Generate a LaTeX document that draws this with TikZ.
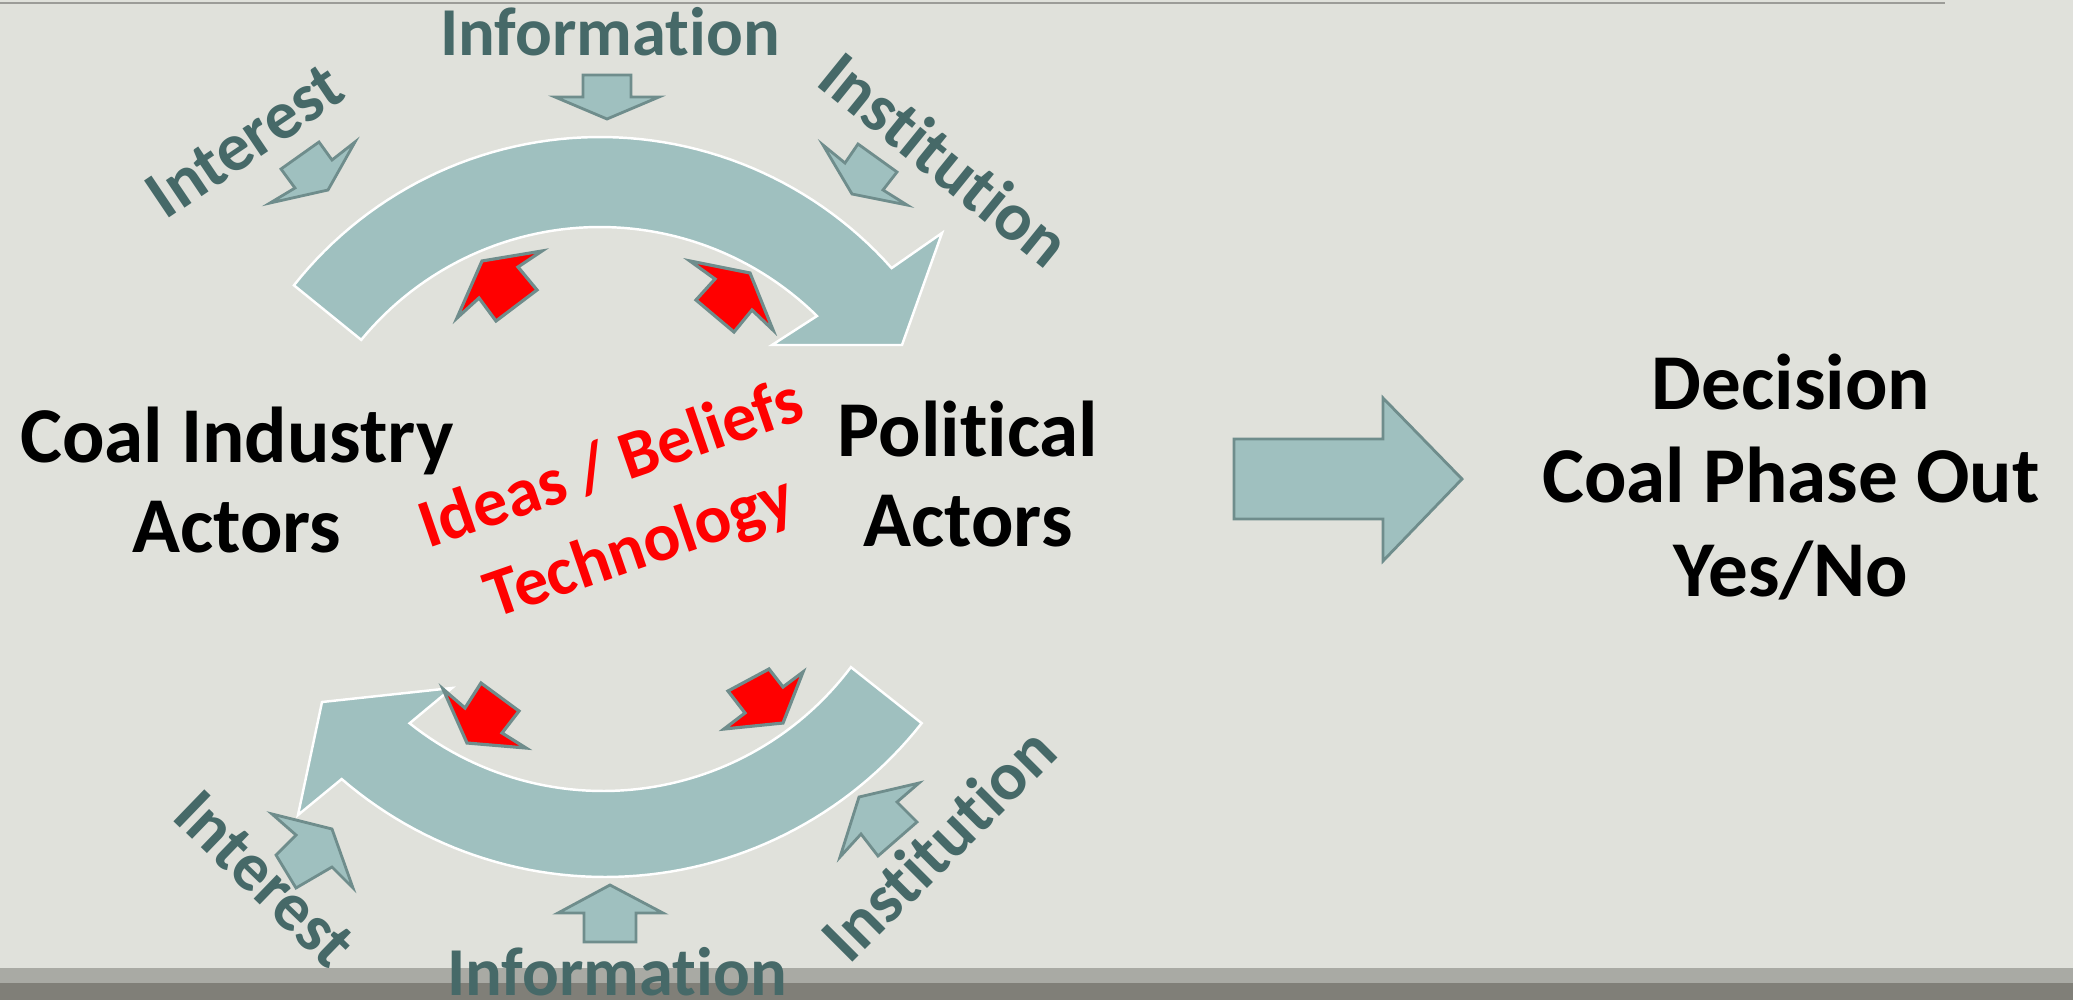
\documentclass[tikz,border=0pt]{standalone}
\usepackage{fontspec}
\setmainfont{Carlito}[Ligatures=NoCommon]
\definecolor{slide}{HTML}{E0E1DB}
\definecolor{arrowfill}{HTML}{9FC0BF}
\definecolor{arrowline}{HTML}{6F8D8C}
\definecolor{factortext}{HTML}{466968}
\definecolor{bandlight}{HTML}{A9AAA4}
\definecolor{banddark}{HTML}{807F78}
\definecolor{ruleline}{HTML}{9C9C98}
\begin{document}
\begin{tikzpicture}[x=0.01cm, y=-0.01cm,
		smallarrow/.style={fill=arrowfill, draw=arrowline, line width=0.8pt},
		redarrow/.style={fill=red, draw=arrowline, line width=0.9pt},
		cyclearrow/.style={fill=arrowfill, draw=white, line width=0.7pt},
		factor/.style={text=factortext, font=\bfseries\fontsize{19.5}{23}\selectfont, inner sep=0pt},
		actors/.style={font=\bfseries\fontsize{22.5}{25.5}\selectfont, align=center, inner sep=0pt}]
			% slide background
			\useasboundingbox (0,0) rectangle (2073,1000);
			\fill [slide] (0,0) rectangle (2073,1000);
			\draw [ruleline, line width=0.6pt] (0,3) -- (1945,3);
			\fill [bandlight] (0,968) rectangle (2073,983);
			\fill [banddark] (0,983) rectangle (2073,1000);
			% the two cycle arrows
			\draw [cyclearrow] plot [domain=-141.7:-41.6, samples=60] ({600+390*cos(\x)},{527+390*sin(\x)}) -- (942,233) -- (902,345) -- (772,345) -- plot [domain=-45.4:-140.6, samples=60] ({600+309*cos(\x)},{536+309*sin(\x)}) -- cycle;
			\draw [cyclearrow] (852,668) -- plot [domain=38.2:130.8, samples=60] ({605+403*cos(\x)},{474+403*sin(\x)}) -- (298,815) -- (322,702) -- (452,688) -- plot [domain=128.6:36.9, samples=60] ({603+310*cos(\x)},{481+310*sin(\x)}) -- cycle;
			% small arrows onto the cycle
			\draw [smallarrow] (319,142) -- (332,160) -- (355,142) -- (328,190) -- (270,203) -- (295,188) -- (281,169) -- cycle;
			\draw [smallarrow] (583,75) -- (631,75) -- (631,97) -- (659,97) -- (607,119) -- (555,97) -- (583,97) -- cycle;
			\draw [smallarrow] (823,145) -- (845,163) -- (858,144) -- (897,172) -- (883,190) -- (907,205) -- (852,194) -- cycle;
			\draw [smallarrow] (272,814) -- (296,835) -- (276,855) -- (296,888) -- (332,867) -- (353,888) -- (332,829) -- cycle;
			\draw [smallarrow] (610,885) -- (663,913) -- (636,913) -- (636,942) -- (584,942) -- (584,913) -- (558,913) -- cycle;
			\draw [smallarrow] (919,783) -- (897,802) -- (917,822) -- (878,856) -- (861,834) -- (840,857) -- (859,797) -- cycle;
			% red arrows
			\draw [redarrow] (542,251) -- (518,267) -- (537,290) -- (496,321) -- (479,298) -- (457,318) -- (482,261) -- cycle;
			\draw [redarrow] (690,261) -- (750,273) -- (773,330) -- (752,310) -- (734,332) -- (696,300) -- (715,279) -- cycle;
			\draw [redarrow] (443,689) -- (465,708) -- (481,683) -- (519,711) -- (502,733) -- (526,748) -- (467,743) -- cycle;
			\draw [redarrow] (803,672) -- (783,687) -- (769,669) -- (728,691) -- (745,713) -- (724,729) -- (783,723) -- cycle;
			% arrow to the decision
			\draw [smallarrow] (1234,439) -- (1383,439) -- (1383,398) -- (1462,479) -- (1383,561) -- (1383,519) -- (1234,519) -- cycle;
			% labels
			\node [factor, anchor=base] (infotop) at (610,55) {Information};
			\node [factor, rotate=34] (interesttop) at (245,141) {Interest};
			\node [factor, rotate=-39] (institutiontop) at (945,159) {Institution};
			\node [factor, rotate=-44] (interestbottom) at (265,879) {Interest};
			\node [factor, rotate=45] (institutionbottom) at (938,844) {Institution};
			\node [factor, anchor=base] (infobottom) at (617,995) {Information};
			\node [actors, text=red, rotate=19, font=\bfseries\fontsize{19.5}{25}\selectfont] (ideas) at (626,508) {Ideas / Beliefs\\Technology};
			\node [actors] (coal) at (237,480) {Coal Industry\\Actors};
			\node [actors] (political) at (968,474) {Political\\Actors};
			\node [actors, font=\bfseries\fontsize{22.5}{26.5}\selectfont] (decision) at (1791,477) {Decision\\Coal Phase Out\\Yes/No};
		\end{tikzpicture}
\end{document}
